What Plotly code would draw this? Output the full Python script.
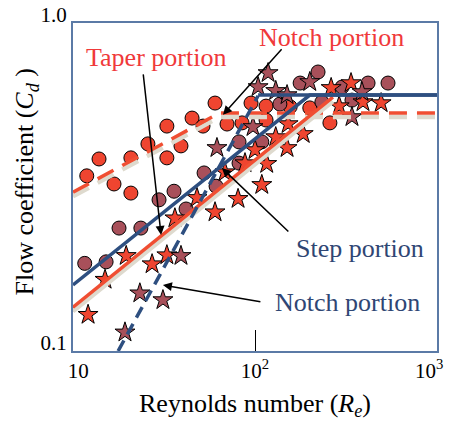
import plotly.graph_objects as go

# ---- data ----
# Taper/notch (bright red) circles
re_circ_a = [11.9, 13.9, 16.8, 20.8, 20.8, 25.8, 32.8, 32.8, 39.2, 45.1, 51.8, 60.3, 70.2, 84.9, 95.1, 115, 115, 156, 200, 258]
cd_circ_a = [0.342, 0.385, 0.323, 0.388, 0.303, 0.428, 0.485, 0.388, 0.422, 0.513, 0.485, 0.570, 0.492, 0.496, 0.570, 0.558, 0.506, 0.555, 0.551, 0.496]
# dark circles
re_circ_b = [11.6, 15.2, 17.9, 23.6, 29.7, 35.9, 41.8, 52.5, 61.1, 81.7, 81.7, 109, 137, 177, 222, 233, 301, 341, 418, 538]
cd_circ_b = [0.185, 0.187, 0.237, 0.237, 0.289, 0.307, 0.271, 0.349, 0.318, 0.434, 0.374, 0.434, 0.566, 0.656, 0.709, 0.574, 0.638, 0.582, 0.656, 0.656]
# bright red stars
re_star_a = [12.1, 15.0, 19.6, 27.2, 32.8, 36.3, 48.0, 60.3, 80.7, 68.4, 109, 116, 100, 130, 150, 184, 152, 262, 290, 337, 392, 493, 88.1]
cd_star_a = [0.129, 0.165, 0.195, 0.184, 0.196, 0.254, 0.293, 0.265, 0.291, 0.351, 0.321, 0.372, 0.410, 0.449, 0.416, 0.459, 0.492, 0.634, 0.558, 0.656, 0.574, 0.570, 0.374]
# dark stars
re_star_b = [19.3, 23.3, 31.2, 39.2, 61.8, 97.5, 118, 104, 130, 150, 200, 341, 387]
cd_star_b = [0.114, 0.150, 0.143, 0.195, 0.416, 0.482, 0.704, 0.638, 0.621, 0.603, 0.661, 0.517, 0.616]

# fitted lines
re_taper = [10, 268]
cd_taper = [0.136, 0.594]
re_notch_red = [10, 64, 1000]
cd_notch_red = [0.305, 0.532, 0.532]
re_step = [10, 200, 1000]
cd_step = [0.159, 0.603, 0.603]
re_notch_blue = [17.7, 104]
cd_notch_blue = [0.1, 0.6]
re_plateau_blue = [104, 1000]
cd_plateau_blue = [0.603, 0.603]

x_ticks = [10, 100, 1000]
x_ticktext = ["&nbsp;&nbsp;10", "10<sup>2</sup>", "10<sup>3</sup>&nbsp;&nbsp;&nbsp;"]
y_ticks = [0.1, 1.0]
y_ticktext = ["0.1", "1.0"]

RED = "#EF4530"
DARK = "#A8505A"
RLINE = "#F04E32"
BLUE = "#2E4F80"
SHADOW = "#DEDACE"
FONT = "Liberation Serif"

fig = go.Figure()

def markers(x, y, sym, col, size):
    fig.add_trace(go.Scatter(x=x, y=y, mode="markers",
                             marker=dict(symbol=sym, color=col, size=size,
                                         line=dict(color="black", width=1)),
                             showlegend=False, hoverinfo="skip"))

markers(re_circ_a, cd_circ_a, "circle", RED, 14)
markers(re_circ_b, cd_circ_b, "circle", DARK, 14)
markers(re_star_a, cd_star_a, "star", RED, 15)
markers(re_star_b, cd_star_b, "star", DARK, 15)

def line(x, y, col, w, dash=None, shadow=False):
    if shadow:
        fig.add_trace(go.Scatter(x=x, y=[v * 0.972 for v in y], mode="lines",
                                 line=dict(color=SHADOW, width=w + 1, dash=dash),
                                 showlegend=False, hoverinfo="skip"))
    fig.add_trace(go.Scatter(x=x, y=y, mode="lines",
                             line=dict(color=col, width=w, dash=dash),
                             showlegend=False, hoverinfo="skip"))

line(re_notch_red, cd_notch_red, RLINE, 3.5, dash="18px,10px", shadow=True)
line(re_taper, cd_taper, RLINE, 3.5, shadow=True)
line(re_step, cd_step, BLUE, 3.5)
line(re_plateau_blue, cd_plateau_blue, BLUE, 3.5)
line(re_notch_blue, cd_notch_blue, BLUE, 3.5, dash="12px,7px")

# annotations: labels and arrows
def label(text, px, py, col, size=26, angle=0):
    fig.add_annotation(text=text, xref="paper", yref="paper", x=px, y=py,
                       xanchor="center", yanchor="middle",
                       showarrow=False, textangle=angle,
                       font=dict(family=FONT, size=size, color=col))

label("Taper portion", 0.228, 0.896, "#F0393A")
label("Notch portion", 0.709, 0.957, "#F0393A")
label("Step portion", 0.788, 0.314, "#2F4674")
label("Notch portion", 0.755, 0.149, "#2F4674")

# axis titles
label("Reynolds number (<i>R<sub>e</sub></i>)", 0.5, -0.165, "black", size=26)
label("Flow coefficient (<i>C<sub>d</sub></i> )", -0.128, 0.515, "black", size=26, angle=-90)

def arrow(hx, hy, ax, ay):
    fig.add_annotation(text="", xref="paper", yref="paper", x=hx, y=hy,
                       ax=ax, ay=ay, showarrow=True, arrowhead=2,
                       arrowsize=1.2, arrowwidth=1.5, arrowcolor="black")

arrow(0.242, 0.354, -18, -162)
arrow(0.412, 0.720, 60, -67)
arrow(0.409, 0.558, 68, 65)
arrow(0.247, 0.201, 99, 17)

fig.update_layout(
    width=449, height=421,
    margin=dict(l=73, r=12, t=23, b=70),
    paper_bgcolor="white", plot_bgcolor="white",
    font=dict(family=FONT, size=20, color="black"),
    showlegend=False,
)
fig.update_xaxes(type="log", range=[1, 3], tickvals=x_ticks, ticktext=x_ticktext,
                 ticks="inside", ticklen=21, tickcolor="black", tickwidth=1,
                 showgrid=False, zeroline=False, automargin=False,
                 ticklabeloverflow="allow",
                 showline=True, linecolor="#5B7AA6", linewidth=2, mirror=True,
                 tickfont=dict(family=FONT, size=21))
fig.update_yaxes(type="log", range=[-1, 0], tickvals=y_ticks, ticktext=y_ticktext,
                 ticks="", showgrid=False, zeroline=False, automargin=False,
                 ticklabeloverflow="allow",
                 showline=True, linecolor="#5B7AA6", linewidth=2, mirror=True,
                 tickfont=dict(family=FONT, size=21), ticklabelshift=-8)

fig.write_html("out.html", config={"displayModeBar": False},
               post_script="document.body.style.margin='0';document.body.style.overflow='hidden';")
